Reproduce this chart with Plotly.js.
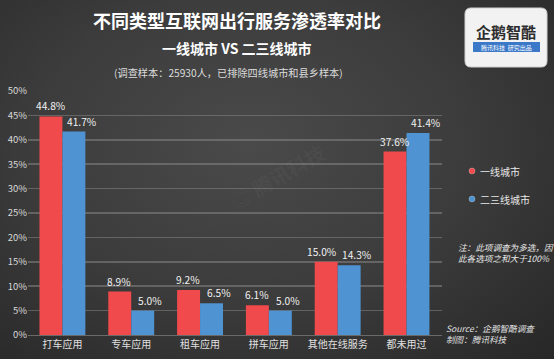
<!DOCTYPE html>
<html>
<head>
<meta charset="utf-8">
<script src="https://cdn.plot.ly/plotly-3.0.1.min.js"></script>
<style>
html,body{margin:0;padding:0;width:554px;height:359px;overflow:hidden;}
body{background:radial-gradient(ellipse at 45% 40%, #4a4a4a 0%, #3c3c3c 50%, #272727 100%);}
#chart{width:554px;height:359px;}
</style>
</head>
<body>
<div id="chart"></div>
<script>
const categories = ['打车应用','专车应用','租车应用','拼车应用','其他在线服务','都未用过'];
const tier1 = [44.8, 8.9, 9.2, 6.1, 15.0, 37.6];
const tier23 = [41.7, 5.0, 6.5, 5.0, 14.3, 41.4];
const seriesNames = ['一线城市','二三线城市'];
const yTicks = [0,5,10,15,20,25,30,35,40,45,50];

const FONT = '"Noto Sans CJK SC", "Noto Sans", sans-serif';
const RED = '#f04a4c';
const BLUE = '#4f93d3';
const COLORS = [RED, BLUE];
const SERIES = [tier1, tier23];

const traces = SERIES.map((vals, i) => ({
  type:'bar', x:categories, y:vals, name:seriesNames[i], marker:{color:COLORS[i]},
  showlegend:false
}));

// plot area in pixels: x 28..442, y 91..335
const L = 28, R = 442, T = 91, B = 335;
const px = (x) => (x - L) / (R - L);
const py = (y) => (B - y) / (B - T);

const annotations = [
  {x:px(237), y:py(20), text:'<b>不同类型互联网出行服务渗透率对比</b>', font:{size:18, color:'#ffffff'}},
  {x:px(237), y:py(48), text:'<b>一线城市 VS 二三线城市</b>', font:{size:14, color:'#ffffff'}},
  {x:px(228), y:py(72), text:'(调查样本：25930人，已排除四线城市和县乡样本)', font:{size:10.2, color:'#dcdcdc'}},
  {x:px(456), y:py(252), xanchor:'left', align:'left',
   text:'<i>注：此项调查为多选，因<br>此各选项之和大于100%</i>', font:{size:8.6, color:'#e8e8e8'}},
  {x:px(444), y:py(333), xanchor:'left', align:'left',
   text:'<i>Source：企鹅智酷调查<br>制图：腾讯科技</i>', font:{size:8.6, color:'#e0e0e0'}},
  {x:px(277), y:py(176), text:'<b>◎ 腾讯科技</b>', textangle:-30, font:{size:20, color:'rgba(255,255,255,0.045)'}},
  {x:px(506), y:py(32), text:'<b>企鹅智酷</b>', font:{size:15, color:'#2d2d2d'}},
  {x:px(506), y:py(47), text:'腾讯科技  研究出品', font:{size:6, color:'#ffffff'}}
];
seriesNames.forEach((n, i) => {
  annotations.push({x:px(478), y:py(171 + 28*i), xanchor:'left', text:n, font:{size:10, color:'#e8e8e8'}});
});
annotations.forEach(a => {
  a.xref = 'paper'; a.yref = 'paper'; a.showarrow = false;
  if (!a.xanchor) a.xanchor = 'center';
  a.yanchor = 'middle';
  a.font.family = FONT;
});
// value labels, placed through the data axes
const labelShift = [-12, 19];
SERIES.forEach((vals, i) => {
  vals.forEach((v, j) => {
    annotations.push({xref:'x', yref:'y', x:categories[j], y:v, xanchor:'center', yanchor:'bottom',
      xshift:labelShift[i] - (i === 0 && j === 4 ? 4 : 0), yshift:1, showarrow:false,
      text:v.toFixed(1) + '%', font:{size:10.2, color:'#f2f2f2', family:FONT}});
  });
});

const shapes = [
  {type:'path', xref:'paper', yref:'paper',
   path:(() => {
     const x0=465,x1=547,y0=8,y1=67,r=6;
     const P=(x,y)=>px(x)+','+py(y);
     return `M${P(x0+r,y0)} L${P(x1-r,y0)} Q${P(x1,y0)} ${P(x1,y0+r)} L${P(x1,y1-r)} Q${P(x1,y1)} ${P(x1-r,y1)} L${P(x0+r,y1)} Q${P(x0,y1)} ${P(x0,y1-r)} L${P(x0,y0+r)} Q${P(x0,y0)} ${P(x0+r,y0)} Z`;
   })(),
   fillcolor:'#f2f2f2', line:{color:'#d0d0d0', width:1}, layer:'above'},
  {type:'rect', xref:'paper', yref:'paper', x0:px(473), x1:px(540), y0:py(52), y1:py(42),
   fillcolor:'#3b78c8', line:{width:0}, layer:'above'}
];
seriesNames.forEach((n, i) => {
  const cy = 171 + 28*i;
  shapes.push({type:'circle', xref:'paper', yref:'paper', x0:px(469), x1:px(475), y0:py(cy+3), y1:py(cy-3),
    fillcolor:COLORS[i], line:{color:'rgba(255,255,255,0.25)', width:1}, layer:'above'});
});

const layout = {
  width:554, height:359,
  paper_bgcolor:'rgba(0,0,0,0)', plot_bgcolor:'rgba(0,0,0,0)',
  margin:{l:L, r:554-R, t:T, b:359-B},
  font:{family:FONT, color:'#dddddd', size:10},
  barmode:'group', bargap:0.333, bargroupgap:0,
  showlegend:false,
  xaxis:{type:'category', showgrid:false, zeroline:false, showline:true, linecolor:'#6a6a6a', linewidth:1,
         tickfont:{size:10, color:'#e0e0e0', family:FONT}, ticks:'', fixedrange:true},
  yaxis:{range:[0,50], tickvals:yTicks, ticktext:yTicks.map(v=>v+'%'), showgrid:true,
         gridcolor:'rgba(140,140,140,0.5)', gridwidth:1.5, zeroline:false, showline:false,
         tickfont:{size:9.5, color:'#d8d8d8', family:FONT}, ticks:'', fixedrange:true},
  annotations, shapes
};

Plotly.newPlot('chart', traces, layout, {displayModeBar:false, staticPlot:true});
</script>
</body>
</html>
